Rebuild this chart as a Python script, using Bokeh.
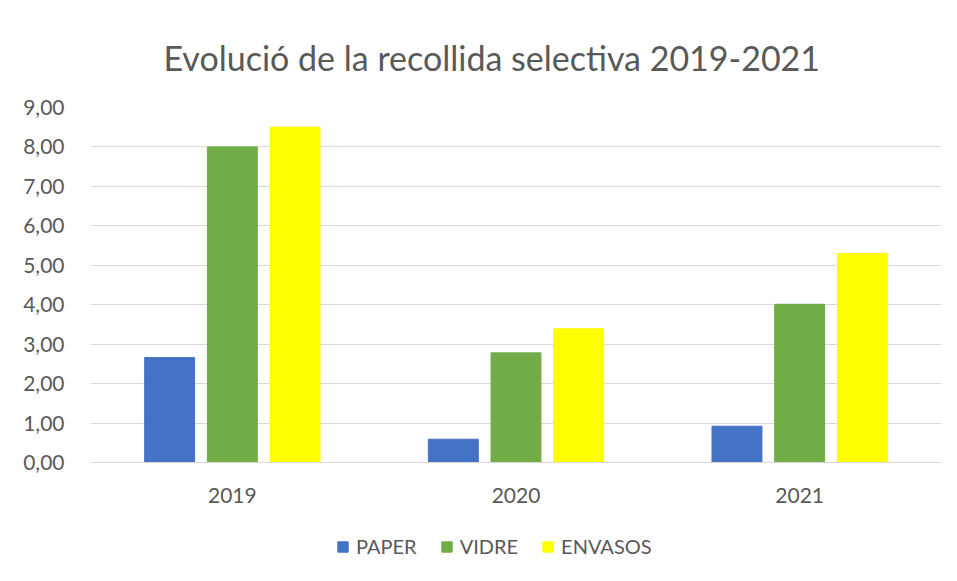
from bokeh.plotting import figure
from bokeh.layouts import column
from bokeh.models import FixedTicker, Legend, LegendItem, Range1d, Title
from bokeh.transform import dodge
from bokeh.embed import file_html
from bokeh.resources import INLINE

years = ["2019", "2020", "2021"]
series = ["PAPER", "VIDRE", "ENVASOS"]
paper = [2.66, 0.59, 0.92]
vidre = [8.0, 2.78, 4.01]
envasos = [8.5, 3.39, 5.3]
y_ticks = [0, 1, 2, 3, 4, 5, 6, 7, 8, 9]
y_tick_labels = ["0,00", "1,00", "2,00", "3,00", "4,00", "5,00", "6,00", "7,00", "8,00", "9,00"]
colors = ["#4472C4", "#70AD47", "#FFFF00"]

FONT = "Lato"
GREY = "#595959"

p = figure(x_range=years, y_range=Range1d(0, 9), width=949, height=510,
           output_backend="svg", toolbar_location=None,
           min_border_left=90, min_border_right=8, min_border_top=107, min_border_bottom=48)

title = Title(text="Evolució de la recollida selectiva 2019-2021", align="left",
              text_font=FONT, text_font_size="34px", text_color=GREY, text_font_style="normal",
              standoff=60, offset=73)
p.add_layout(title, "above")

data = dict(years=years, PAPER=paper, VIDRE=vidre, ENVASOS=envasos)
offsets = [-0.221, 0.0, 0.221]
for s, c, off in zip(series, colors, offsets):
    p.vbar(x=dodge("years", off, range=p.x_range), top=s, width=0.176, source=data,
           fill_color=c, line_color=c)

p.yaxis.ticker = FixedTicker(ticks=y_ticks)
p.yaxis.major_label_overrides = {t: l for t, l in zip(y_ticks, y_tick_labels)}
p.yaxis.axis_line_color = None
p.yaxis.major_tick_line_color = None
p.yaxis.minor_tick_line_color = None
p.yaxis.major_label_text_font = FONT
p.yaxis.major_label_text_font_size = "21px"
p.yaxis.major_label_text_color = GREY
p.yaxis.major_label_standoff = 20

p.xaxis.axis_line_color = "#d9d9d9"
p.xaxis.major_tick_line_color = None
p.xaxis.minor_tick_line_color = None
p.xaxis.major_label_text_font = FONT
p.xaxis.major_label_text_font_size = "21px"
p.xaxis.major_label_text_color = GREY
p.xaxis.major_label_standoff = 19

p.xgrid.grid_line_color = None
p.ygrid.grid_line_color = "#d9d9d9"
p.ygrid.ticker = FixedTicker(ticks=y_ticks)
p.outline_line_color = None

# legend strip below the chart (its frame is aligned with the chart's frame)
pl = figure(width=949, height=63, output_backend="svg", toolbar_location=None,
            x_range=Range1d(0, 1), y_range=Range1d(0, 1),
            min_border_left=0, min_border_right=0, min_border_top=0, min_border_bottom=0)
pl.axis.visible = False
pl.grid.visible = False
pl.outline_line_color = None
items = []
for s, c in zip(series, colors):
    # off-range proxy glyphs, used only for the legend swatches
    r = pl.vbar(x=[-10], top=[-10], width=0.1, fill_color=c, line_color=c)
    items.append(LegendItem(label=s, renderers=[r]))
legend = Legend(items=items, orientation="horizontal", location=(246, 15),
                label_text_font=FONT, label_text_font_size="20px", label_text_color=GREY,
                glyph_width=13, glyph_height=13, label_standoff=7, spacing=23,
                border_line_color=None, background_fill_alpha=0, padding=0, margin=0)
pl.add_layout(legend, "center")

layout = column(p, pl, spacing=0)
open("out.html", "w").write(file_html(layout, INLINE))
